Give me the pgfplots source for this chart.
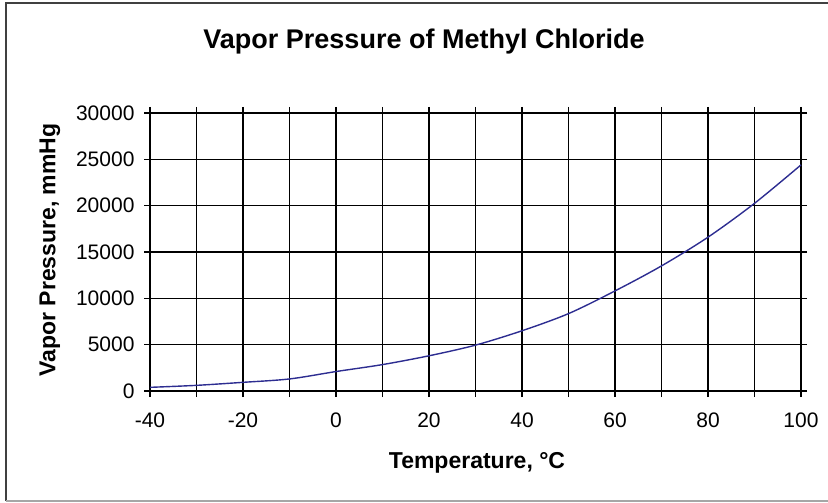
\documentclass[border=0pt]{standalone}
\usepackage{pgfplots}
\pgfplotsset{compat=1.18}
\usepackage{fontspec}
\setmainfont{Liberation Sans}
\definecolor{curve}{RGB}{45,45,145}
\begin{document}
\begin{tikzpicture}[x=1pt,y=1pt]
\useasboundingbox (0,0) rectangle (828,-503);
\draw[line width=1.4pt, black!75] (6,-501) -- (6,-3) -- (830,-3);
\draw[line width=1.2pt, black!35] (6,-501) -- (830,-501);
\begin{axis}[
  at={(150pt,-391pt)}, anchor=south west,
  scale only axis, width=651pt, height=278pt,
  xmin=-40, xmax=100, ymin=0, ymax=30000,
  xtick={-40,-30,...,100},
  xticklabels={-40,,-20,,0,,20,,40,,60,,80,,100},
  ytick={0,5000,...,30000},
  xmajorgrids, ymajorgrids,
  major grid style={black, line width=1.5pt},
  axis line style={black, line width=1.6pt},
  tick align=outside,
  major tick length=6pt,
  major tick style={black, line width=1.5pt},
  scaled y ticks=false,
  /pgf/number format/assume math mode=true,
  yticklabel={\pgfmathprintnumber[fixed,1000 sep={}]{\tick}},
  ticklabel style={font=\fontsize{21}{24}\selectfont},
  xticklabel style={yshift=-12pt},
  yticklabel style={xshift=-6pt},
  clip=false,
]
\addplot[curve, line width=1.4pt, smooth] coordinates {
  (-40,395) (-30,610) (-20,935) (-10,1300) (0,2100) (10,2850)
  (20,3800) (30,4950) (40,6500) (50,8350) (60,10800) (70,13500)
  (80,16600) (90,20250) (100,24400)
};
\end{axis}
\node[font=\fontsize{27}{30}\selectfont\bfseries] at (424,-42) {Vapor Pressure of Methyl Chloride};
\node[font=\fontsize{23}{26}\selectfont\bfseries] at (477,-463) {Temperature, °C};
\node[font=\fontsize{23}{26}\selectfont\bfseries, rotate=90] at (50,-250) {Vapor Pressure, mmHg};
\end{tikzpicture}
\end{document}
